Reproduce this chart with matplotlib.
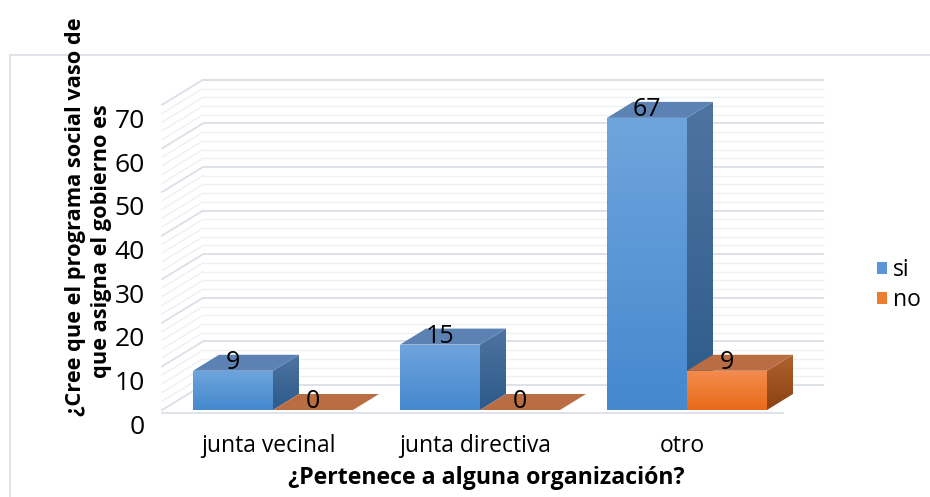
import numpy as np
import matplotlib
matplotlib.use("Agg")
import matplotlib.pyplot as plt
from matplotlib.patches import Polygon, Patch, Rectangle
from matplotlib.colors import LinearSegmentedColormap

# ---------------- data ----------------
categories = ["junta vecinal", "junta directiva", "otro"]
series_names = ["si", "no"]
si_values = [9, 15, 67]
no_values = [0, 0, 9]
y_ticks = [0, 10, 20, 30, 40, 50, 60, 70]
x_title = "¿Pertenece a alguna organización?"
y_title_lines = ["¿Cree que el programa social vaso de", "que asigna el gobierno es"]

# ---------------- style ----------------
plt.rcParams['font.family'] = ['Open Sans', 'DejaVu Sans']

W, H = 930, 497
PX_PER_X = 207.0   # pixels per category slot
PX_PER_V = 4.36    # pixels per value unit
X0_PX = 273.0
V0_PX = 410.0

def dxp(px):
    return px / PX_PER_X

def dvp(px):
    return px / PX_PER_V

BAR_W = dxp(80)
BAR_DX, BAR_DV = dxp(26), dvp(16)
WALL_DX, WALL_DV = dxp(41), dvp(25)
FLOOR_L, FLOOR_R = dxp(162 - X0_PX), dxp(783 - X0_PX)
V_MAX = 70

colors = {
    "si": dict(front=("#6FA5DD", "#4588CE"), top=("#5C82B4", "#5A7FAF"),
               side=("#4F74A2", "#2C5A8A")),
    "no": dict(front=("#F38D4F", "#E96A18"), top=("#BA6D43", "#B86A40"),
               side=("#B0612F", "#8C4412")),
}

fig = plt.figure(figsize=(W / 100, H / 100), dpi=100)
ax = fig.add_axes([0, 0, 1, 1])
ax.axis('off')
XLIM = (-X0_PX / PX_PER_X, (W - X0_PX) / PX_PER_X)
YLIM = ((V0_PX - H) / PX_PER_V, V0_PX / PX_PER_V)


def grad_poly(verts, c_top, c_bot, z):
    poly = Polygon(verts, closed=True, facecolor='none', edgecolor='none', zorder=z)
    ax.add_patch(poly)
    xs = [p[0] for p in verts]
    ys = [p[1] for p in verts]
    if max(ys) - min(ys) < 1e-9:
        return
    cmap = LinearSegmentedColormap.from_list('g', [c_bot, c_top])
    grad = np.linspace(0, 1, 256).reshape(-1, 1)
    im = ax.imshow(grad, cmap=cmap, origin='lower', aspect='auto',
                   extent=[min(xs), max(xs), min(ys), max(ys)],
                   zorder=z, interpolation='bilinear')
    im.set_clip_path(poly)


# ---- walls: back gridlines and side wall lines ----
for v in range(0, V_MAX + 1, 2):
    major = (v % 10 == 0)
    col = "#DADFE7" if major else "#EDF0F4"
    lw = 1.3 if major else 1.0
    ax.plot([FLOOR_L + WALL_DX, FLOOR_R + WALL_DX], [v + WALL_DV, v + WALL_DV],
            color=col, lw=lw, zorder=1, solid_capstyle='butt')
    ax.plot([FLOOR_L, FLOOR_L + WALL_DX], [v, v + WALL_DV],
            color=col, lw=lw, zorder=1)
# floor front edge
ax.plot([FLOOR_L, FLOOR_R], [-dvp(3), -dvp(3)], color="#DCE0E7", lw=1.3, zorder=1)

# ---- bars ----
z = 2
for i, cat in enumerate(categories):
    for s, (name, vals) in enumerate(zip(series_names, [si_values, no_values])):
        v = vals[i]
        c = colors[name]
        xl = i + (s - 1) * BAR_W
        xr = xl + BAR_W
        # side face
        grad_poly([(xr, 0), (xr + BAR_DX, BAR_DV), (xr + BAR_DX, v + BAR_DV), (xr, v)],
                  c["side"][0], c["side"][1], z)
        # top face
        ax.add_patch(Polygon([(xl, v), (xr, v), (xr + BAR_DX, v + BAR_DV), (xl + BAR_DX, v + BAR_DV)],
                             closed=True, facecolor=c["top"][0], edgecolor='none', zorder=z))
        # data label (partly hidden behind front face, as in the original)
        ax.text((xl + xr) / 2, v + dvp(8.5), f"{v}", ha='center', va='center',
                fontsize=18, color='black', zorder=z + 0.5)
        # front face
        grad_poly([(xl, 0), (xr, 0), (xr, v), (xl, v)], c["front"][0], c["front"][1], z + 0.7)
        z += 1

# ---- tick labels ----
for t in y_ticks:
    ax.text(dxp(145 - X0_PX), t - dvp(17), str(t), ha='right', va='center',
            fontsize=19, color='black', zorder=20)

# ---- category labels ----
for i, cat in enumerate(categories):
    ax.text(i - dxp(5), (V0_PX - 446) / PX_PER_V, cat, ha='center', va='center',
            fontsize=16.5, color='black', zorder=20)

ax.set_xlim(*XLIM)
ax.set_ylim(*YLIM)

# ---- titles ----
fig.text(486 / W, 1 - 478 / H, x_title, ha='center', va='center',
         fontsize=16.7, fontweight='bold', color='black')
fig.text(76 / W, 1 - 217 / H, y_title_lines[0], ha='center', va='center',
         rotation=90, fontsize=15.7, fontweight='bold', color='black')
fig.text(101 / W, 1 - 241 / H, y_title_lines[1], ha='center', va='center',
         rotation=90, fontsize=15.7, fontweight='bold', color='black')

# ---- legend ----
handles = [Patch(facecolor="#5A96D6", edgecolor='none', label=series_names[0]),
           Patch(facecolor="#EF7C33", edgecolor='none', label=series_names[1])]
fig.legend(handles=handles, loc='center left', bbox_to_anchor=(861 / W, 1 - 285 / H),
           frameon=False, fontsize=16.5, handlelength=0.45, handleheight=0.45,
           handletextpad=0.25, labelspacing=0.25, borderpad=0.2)

# ---- chart area border ----
fig.patches.append(Rectangle((10 / W, -0.05), 1.2, (H - 55) / H + 0.05,
                             transform=fig.transFigure, facecolor='none',
                             edgecolor="#D9DEE5", lw=1.2, zorder=0))

fig.savefig("out.png", dpi=100)
